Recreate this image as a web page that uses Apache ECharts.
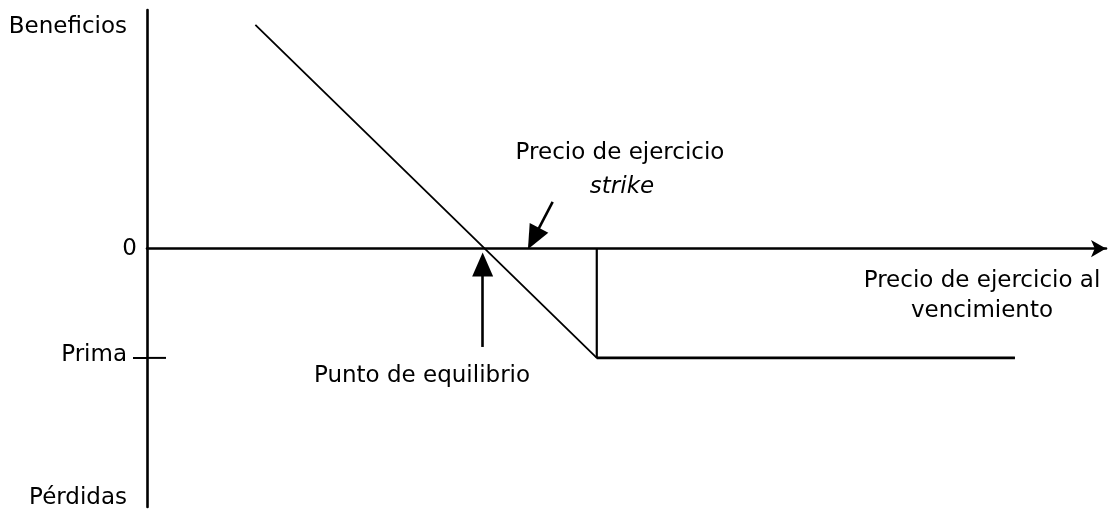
<!DOCTYPE html>
<html>
<head>
<meta charset="utf-8">
<script src="https://cdn.jsdelivr.net/npm/echarts@6/dist/echarts.min.js"></script>
<style>
  html, body { margin: 0; padding: 0; background: #fff; }
  #chart { width: 1113px; height: 513px; }
</style>
</head>
<body>
<div id="chart"></div>
<script>
// payoff of the long put (precio, beneficio)
const payoffX = [11.3, 46.9, 90.5];
const payoffY = [22.5, -11, -11];
const strike = 46.9;
const prima = -11;
// inner part of the prima tick
const primaTickX = [0, 1.98];
// arrows [fromX, fromY, toX, toY]
const arrowEquilibrio = [35.0, -9.9, 35.0, -1.6];
const arrowStrike = [42.3, 4.7, 40.3, 1.0];
// y axis labels
const yLabelValues = [22.3, -10.7, -25.1];
const yLabelTexts = ['Beneficios', 'Prima', 'Pérdidas'];

const FONT = 'DejaVu Sans';

const chartDom = document.getElementById('chart');
const myChart = echarts.init(chartDom);

const black = '#000';
const lineSeg = (a, b, w) => ({
  type: 'line',
  data: [a, b],
  symbol: 'none',
  silent: true,
  clip: false,
  lineStyle: { color: black, width: w || 2.4 }
});

const option = {
  animation: false,
  grid: { left: 147, top: 10, width: 959, height: 497 },
  xAxis: {
    type: 'value',
    min: 0,
    max: 100,
    splitLine: { show: false },
    axisTick: { show: false },
    axisLabel: { show: false },
    axisLine: {
      show: true,
      onZero: true,
      symbol: ['none', 'arrow'],
      symbolSize: [13, 15],
      lineStyle: { color: black, width: 2.6 }
    }
  },
  yAxis: [
    {
      type: 'value',
      min: -26,
      max: 24,
      splitLine: { show: false },
      axisTick: {
        show: true,
        customValues: [prima],
        length: 14,
        lineStyle: { color: black, width: 2 }
      },
      axisLine: { show: true, lineStyle: { color: black, width: 2.6 } },
      axisLabel: {
        customValues: yLabelValues,
        margin: 20,
        color: black,
        fontFamily: FONT,
        fontSize: 23,
        formatter: v => yLabelTexts[yLabelValues.indexOf(v)] || ''
      }
    },
    {
      type: 'value',
      position: 'left',
      min: -26,
      max: 24,
      splitLine: { show: false },
      axisTick: { show: false },
      axisLine: { show: false },
      axisLabel: {
        customValues: [0],
        margin: 10,
        color: black,
        fontFamily: FONT,
        fontSize: 23,
        formatter: () => '0'
      }
    }
  ],
  series: [
    {
      type: 'line',
      data: payoffX.map((x, i) => [x, payoffY[i]]),
      symbol: 'none',
      silent: true,
      lineStyle: { color: black, width: 1.8 }
    },
    lineSeg([payoffX[1], payoffY[1]], [payoffX[2], payoffY[2]], 2.6),
    lineSeg([strike, 0], [strike, prima], 2.2),
    lineSeg([primaTickX[0], prima], [primaTickX[1], prima], 2),
    {
      type: 'line',
      data: [],
      markLine: {
        silent: true,
        symbol: ['none', 'triangle'],
        symbolSize: [21, 24],
        label: { show: false },
        lineStyle: { color: black, width: 2.6, type: 'solid' },
        data: [
          [{ coord: [arrowEquilibrio[0], arrowEquilibrio[1]] }, { coord: [arrowEquilibrio[2], arrowEquilibrio[3]] }],
          [{ coord: [arrowStrike[0], arrowStrike[1]] }, { coord: [arrowStrike[2], arrowStrike[3]] }]
        ]
      }
    }
  ],
  graphic: [
    {
      type: 'text', x: 620, y: 153,
      style: { text: 'Precio de ejercicio', font: '23px DejaVu Sans', fill: black, align: 'center', verticalAlign: 'middle' }
    },
    {
      type: 'text', x: 622, y: 187,
      style: { text: 'strike', font: 'italic 23px DejaVu Sans', fill: black, align: 'center', verticalAlign: 'middle' }
    },
    {
      type: 'text', x: 422, y: 376,
      style: { text: 'Punto de equilibrio', font: '23px DejaVu Sans', fill: black, align: 'center', verticalAlign: 'middle' }
    },
    {
      type: 'text', x: 982, y: 281,
      style: { text: 'Precio de ejercicio al', font: '23px DejaVu Sans', fill: black, align: 'center', verticalAlign: 'middle' }
    },
    {
      type: 'text', x: 982, y: 311,
      style: { text: 'vencimiento', font: '23px DejaVu Sans', fill: black, align: 'center', verticalAlign: 'middle' }
    }
  ]
};
option && myChart.setOption(option);
</script>
</body>
</html>
